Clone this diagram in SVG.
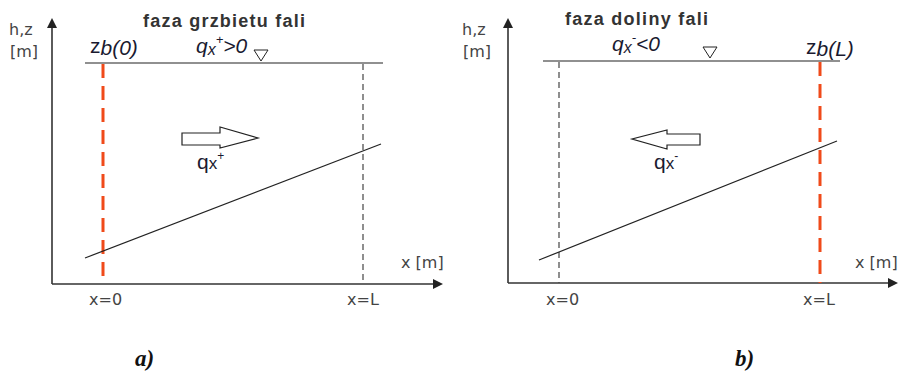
<svg xmlns="http://www.w3.org/2000/svg" width="898" height="374" viewBox="0 0 898 374">
<style>
.ax{stroke:#333;stroke-width:1.6;fill:none}
.ln{stroke:#222;stroke-width:1.2;fill:none}
.red{stroke:#f04a1a;stroke-width:3;stroke-dasharray:14,8;fill:none}
.gd{stroke:#444;stroke-width:1.2;stroke-dasharray:6,4;fill:none}
.lbl{font-family:"DejaVu Sans","Liberation Sans",sans-serif;font-size:16px;fill:#444}
.ttl{font-family:"Liberation Sans",Arial,sans-serif;font-size:18px;font-weight:bold;fill:#333}
.q{font-family:"Liberation Sans",Arial,sans-serif;font-style:italic;font-size:21px;fill:#1a1a30}
.qs{font-family:"Liberation Sans",Arial,sans-serif;font-size:21px;fill:#1a1a30}
.cap{font-family:"Liberation Serif","Times New Roman",serif;font-style:italic;font-weight:bold;font-size:23px;fill:#111}
.tri{fill:#fff;stroke:#222;stroke-width:1}
.harrow{fill:#fff;stroke:#222;stroke-width:1.2}
</style>
<defs>
<marker id="ah" markerWidth="10" markerHeight="10" refX="8" refY="5" orient="auto" markerUnits="userSpaceOnUse">
<path d="M0,0 L10,5 L0,10 Z" fill="#222"/>
</marker>
</defs>
<rect width="898" height="374" fill="#fff"/>

<g id="panel-a">
<g id="axes-a">
<line class="ax" x1="52" y1="284" x2="52" y2="20" marker-end="url(#ah)"/>
<line class="ax" x1="52" y1="284" x2="441" y2="284" marker-end="url(#ah)"/>
</g>
<text class="lbl" x="9" y="35">h,z</text>
<text class="lbl" x="10" y="57">[m]</text>
<text class="ttl" x="143" y="27" textLength="162" lengthAdjust="spacing">faza grzbietu fali</text>
<line class="ln" x1="85" y1="63" x2="383" y2="63"/>
<text class="qs" x="90" y="53">z<tspan class="q" font-size="16" dy="2">b(0)</tspan></text>
<text class="q" x="196" y="53">q<tspan font-size="16" dy="2">x</tspan><tspan font-size="13" dy="-11">+</tspan><tspan dy="9">&gt;0</tspan></text>
<polygon class="tri" points="254,50 268,50 261,61"/>
<line class="red" x1="103" y1="64" x2="103" y2="284"/>
<line class="gd" x1="363" y1="64" x2="363" y2="284"/>
<polygon class="harrow" points="182,133 220,133 220,127 258,138 220,148 220,145 182,145"/>
<text class="qs" x="197" y="169">q<tspan font-size="17">x</tspan><tspan font-size="12" dy="-9">+</tspan></text>
<line class="ln" x1="85" y1="258" x2="381" y2="144"/>
<text class="lbl" x="401" y="268">x [m]</text>
<text class="lbl" x="89" y="305">x=0</text>
<text class="lbl" x="347" y="305">x=L</text>
<text class="cap" x="135" y="366">a)</text>
</g>

<g id="panel-b">
<g id="axes-b">
<line class="ax" x1="508" y1="283" x2="508" y2="20" marker-end="url(#ah)"/>
<line class="ax" x1="508" y1="283" x2="896" y2="283" marker-end="url(#ah)"/>
</g>
<text class="lbl" x="462" y="35">h,z</text>
<text class="lbl" x="463" y="57">[m]</text>
<text class="ttl" x="565" y="25" textLength="143" lengthAdjust="spacing">faza doliny fali</text>
<line class="ln" x1="543" y1="61" x2="840" y2="61"/>
<text class="q" x="612" y="51">q<tspan font-size="16" dy="2">x</tspan><tspan font-size="13" dy="-11">-</tspan><tspan dy="9">&lt;0</tspan></text>
<polygon class="tri" points="703,47 717,47 710,58"/>
<text class="qs" x="806" y="54">z<tspan class="q" font-size="16" dy="2">b(L)</tspan></text>
<line class="gd" x1="559" y1="62" x2="559" y2="283"/>
<line class="red" x1="820" y1="62" x2="820" y2="283"/>
<polygon class="harrow" points="700,134 667,134 667,130 632,139 667,149 667,145 700,145"/>
<text class="qs" x="654" y="169">q<tspan font-size="17">x</tspan><tspan font-size="12" dy="-9">-</tspan></text>
<line class="ln" x1="539" y1="260" x2="837" y2="141"/>
<text class="lbl" x="855" y="268">x [m]</text>
<text class="lbl" x="546" y="305">x=0</text>
<text class="lbl" x="803" y="305">x=L</text>
<text class="cap" x="735" y="366">b)</text>
</g>
</svg>
